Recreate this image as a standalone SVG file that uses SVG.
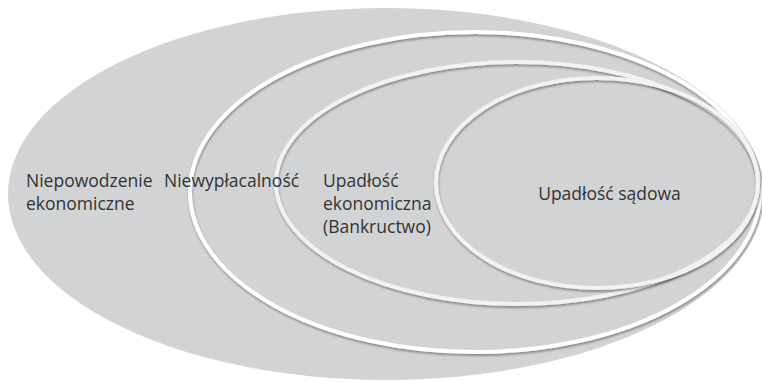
<svg xmlns="http://www.w3.org/2000/svg" width="762" height="382" viewBox="0 0 762 382">
<style>
.fill{fill:#d2d3d5;}
.ring{fill:none;stroke:#ffffff;stroke-width:4;filter:url(#sh);}
.ring2{fill:none;stroke:#f2f2f3;stroke-width:4;filter:url(#sh);}
text{font-family:"Open Sans","Noto Sans","Liberation Sans",sans-serif;font-size:17.5px;fill:#333333;}
</style>
<defs>
<filter id="sh" x="-10%" y="-10%" width="120%" height="120%">
<feDropShadow dx="0.5" dy="2" stdDeviation="1.2" flood-color="#000000" flood-opacity="0.35"/>
</filter>
</defs>
<rect width="762" height="382" fill="#ffffff"/>
<g id="node-niepowodzenie">
<ellipse class="fill" cx="386" cy="194" rx="378" ry="186"/>
</g>
<g id="node-niewyplacalnosc">
<ellipse class="ring" cx="475" cy="192" rx="285" ry="160"/>
</g>
<g id="node-upadlosc-ekonomiczna">
<ellipse class="ring2" cx="517" cy="183" rx="241" ry="121"/>
</g>
<g id="node-upadlosc-sadowa">
<ellipse class="ring2" cx="597" cy="183" rx="161" ry="105"/>
</g>
<g id="labels">
<text x="26" y="187">Niepowodzenie</text>
<text x="26" y="210">ekonomiczne</text>
<text x="164" y="187">Niewypłacalność</text>
<text x="323" y="187">Upadłość</text>
<text x="323" y="210">ekonomiczna</text>
<text x="323" y="233">(Bankructwo)</text>
<text x="609.5" y="200" text-anchor="middle">Upadłość sądowa</text>
</g>
<g id="connectors"></g>
</svg>
